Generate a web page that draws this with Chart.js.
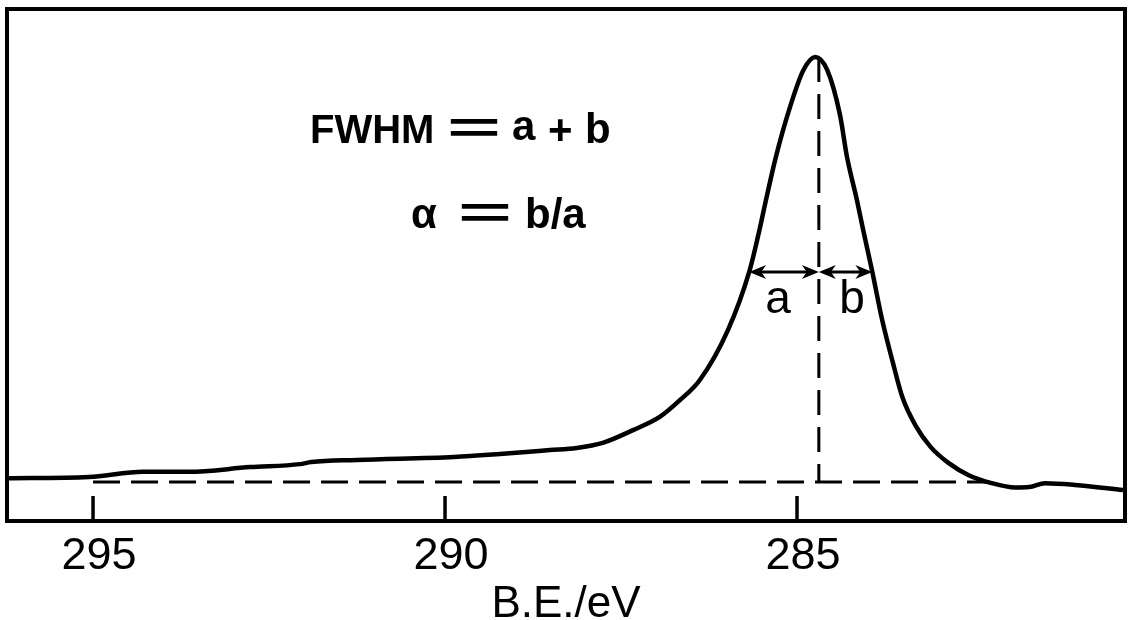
<!DOCTYPE html>
<html lang="en">
<head>
    <meta charset="UTF-8">
    <title>C 1s peak - FWHM</title>
    <style>
        body {
            margin: 0;
            padding: 0;
            background-color: #ffffff;
        }
        #wrap {
            width: 1130px;
            height: 620px;
        }
    </style>
</head>
<body>
    <div id="wrap"><canvas id="peakChart"></canvas></div>

    <script src="https://cdn.jsdelivr.net/npm/chart.js"></script>
    <script>
        // trace: binding energy (eV) vs intensity (baseline = 0, peak = 100)
        const bindingEnergy = [296.22, 295.06, 294.29, 293.64, 292.77, 292.06, 291.90, 291.25, 289.87, 289.22,
                               288.51, 288.13, 287.76, 287.33, 286.95, 286.66, 286.38, 285.98, 285.68, 285.55,
                               285.44, 285.30, 285.10, 284.91, 284.74, 284.57, 284.39, 284.29, 284.15, 284.06,
                               283.93, 283.79, 283.64, 283.50, 283.32, 283.10, 282.85, 282.56, 282.25, 281.90,
                               281.70, 281.48, 281.05, 280.37];
        const intensity = [0.9, 1.2, 2.4, 2.4, 3.5, 4.2, 4.7, 5.2, 5.9, 6.6,
                           7.5, 8.0, 9.2, 12.2, 15.3, 19.3, 24.0, 35.8, 49.4, 58.1,
                           66.4, 76.5, 88.2, 96.9, 100, 96.9, 86.4, 76.5, 66.4, 59.3,
                           49.4, 38.1, 28.2, 19.8, 13.4, 8.2, 4.5, 1.6, -0.2, -1.3,
                           -1.2, -0.3, -0.7, -1.9];

        const tickEnergies = [295, 290, 285];
        const baselineEnergy = [295.0, 282.3];
        const baselineIntensity = [0, 0];
        const peakLineEnergy = [284.69, 284.69];
        const peakLineIntensity = [100, 0];
        // half maximum: left edge, peak position, right edge
        const halfMaxEnergy = [285.68, 284.69, 283.93];
        const halfMaxIntensity = 49.4;
        const halfLabels = ['a', 'b'];
        const halfLabelEnergy = [285.27, 284.22];

        function toPoints(xs, ys) {
            return xs.map((v, i) => ({ x: v, y: ys[i] }));
        }

        function drawArrowHead(ctx, tipX, tipY, dir) {
            // dir = -1 points left, 1 points right
            ctx.beginPath();
            ctx.moveTo(tipX, tipY);
            ctx.lineTo(tipX - dir * 17, tipY - 7);
            ctx.lineTo(tipX - dir * 12, tipY);
            ctx.lineTo(tipX - dir * 17, tipY + 7);
            ctx.closePath();
            ctx.fill();
        }

        function drawDoubleArrow(ctx, x1, x2, y) {
            ctx.beginPath();
            ctx.moveTo(x1 + 4, y);
            ctx.lineTo(x2 - 4, y);
            ctx.stroke();
            drawArrowHead(ctx, x1, y, -1);
            drawArrowHead(ctx, x2, y, 1);
        }

        function wideEquals(ctx, x, y) {
            ctx.save();
            ctx.translate(x, y);
            ctx.scale(2.2, 1.05);
            ctx.fillText('=', 0, 0);
            ctx.restore();
        }

        const annotations = {
            id: 'annotations',
            afterDraw(chart) {
                const ctx = chart.ctx;
                const area = chart.chartArea;
                const xs = chart.scales.x;
                const ys = chart.scales.y;
                ctx.save();
                ctx.strokeStyle = '#000';
                ctx.fillStyle = '#000';

                // frame
                ctx.lineWidth = 4;
                ctx.strokeRect(area.left, area.top, area.right - area.left, area.bottom - area.top);

                // tick marks pointing into the plot
                ctx.lineWidth = 3.5;
                tickEnergies.forEach(v => {
                    const px = xs.getPixelForValue(v);
                    ctx.beginPath();
                    ctx.moveTo(px, area.bottom);
                    ctx.lineTo(px, area.bottom - 25);
                    ctx.stroke();
                });

                // half-width arrows
                const ay = ys.getPixelForValue(halfMaxIntensity);
                const px = halfMaxEnergy.map(v => xs.getPixelForValue(v));
                ctx.lineWidth = 3;
                drawDoubleArrow(ctx, px[0], px[1], ay);
                drawDoubleArrow(ctx, px[1], px[2], ay);

                // a / b labels
                ctx.font = '46px "Liberation Sans", Arial, sans-serif';
                ctx.textAlign = 'center';
                ctx.textBaseline = 'alphabetic';
                halfLabels.forEach((t, i) => {
                    ctx.fillText(t, xs.getPixelForValue(halfLabelEnergy[i]), ay + 41);
                });

                // formulas
                ctx.textAlign = 'left';
                ctx.font = 'bold 40px "Liberation Sans", Arial, sans-serif';
                ctx.fillText('FWHM', 310, 143);
                ctx.font = 'bold 42px "Liberation Sans", Arial, sans-serif';
                ctx.fillText('a', 512, 140);
                ctx.fillText('+', 548, 144);
                ctx.fillText('b', 585, 143);
                ctx.fillText('α', 411, 228);
                ctx.fillText('b/a', 525, 228);
                wideEquals(ctx, 447, 143);
                wideEquals(ctx, 458, 228);

                ctx.restore();
            }
        };

        const ctx = document.getElementById('peakChart').getContext('2d');
        new Chart(ctx, {
            type: 'line',
            data: {
                datasets: [
                    {
                        label: 'spectrum',
                        data: toPoints(bindingEnergy, intensity),
                        borderColor: '#000',
                        borderWidth: 4.5,
                        pointRadius: 0,
                        cubicInterpolationMode: 'monotone',
                        fill: false
                    },
                    {
                        label: 'baseline',
                        data: toPoints(baselineEnergy, baselineIntensity),
                        borderColor: '#000',
                        borderWidth: 3,
                        borderDash: [27, 11],
                        pointRadius: 0
                    },
                    {
                        label: 'peak',
                        data: toPoints(peakLineEnergy, peakLineIntensity),
                        borderColor: '#000',
                        borderWidth: 3,
                        borderDash: [25, 12],
                        pointRadius: 0
                    }
                ]
            },
            options: {
                responsive: true,
                maintainAspectRatio: false,
                animation: false,
                layout: {
                    padding: { left: 7, right: 5, top: 9, bottom: 0 }
                },
                plugins: {
                    legend: { display: false },
                    tooltip: { enabled: false }
                },
                scales: {
                    x: {
                        type: 'linear',
                        reverse: true,
                        min: 280.341,
                        max: 296.222,
                        grid: { display: false, drawTicks: false },
                        border: { display: false },
                        afterBuildTicks: (scale) => {
                            scale.ticks = tickEnergies.map(v => ({ value: v }));
                        },
                        afterFit: (scale) => {
                            scale.height = 99;
                        },
                        ticks: {
                            color: '#000',
                            padding: 13,
                            labelOffset: 6,
                            maxRotation: 0,
                            font: { family: '"Liberation Sans", Arial, sans-serif', size: 45, lineHeight: 1 }
                        },
                        title: {
                            display: true,
                            text: 'B.E./eV',
                            color: '#000',
                            padding: { top: 0, bottom: 0 },
                            font: { family: '"Liberation Sans", Arial, sans-serif', size: 44, lineHeight: 0.68 }
                        }
                    },
                    y: {
                        display: false,
                        min: -9.18,
                        max: 111.3
                    }
                }
            },
            plugins: [annotations]
        });
    </script>
</body>
</html>
